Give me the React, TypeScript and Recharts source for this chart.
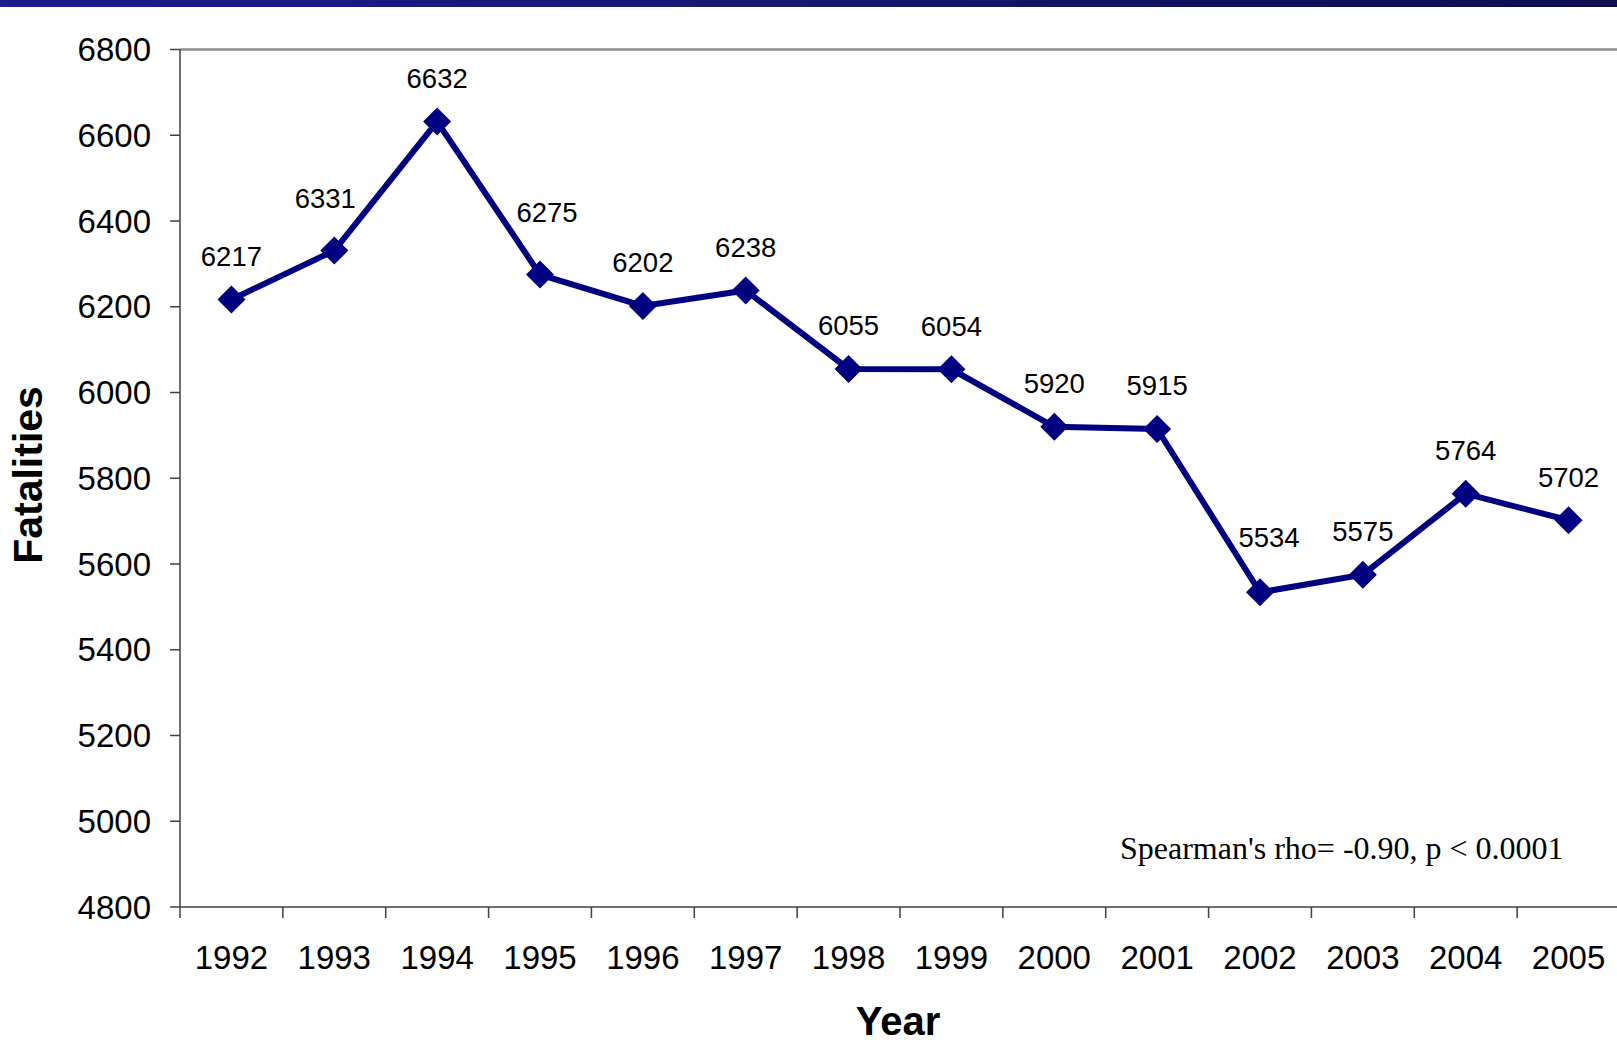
import React from "react";
import {
  LineChart,
  Line,
  XAxis,
  YAxis,
  ReferenceLine,
  LabelList,
} from "recharts";

// years and fatalities
const years = ["1992", "1993", "1994", "1995", "1996", "1997", "1998", "1999", "2000", "2001", "2002", "2003", "2004", "2005"];
const fatalities = [6217, 6331, 6632, 6275, 6202, 6238, 6055, 6054, 5920, 5915, 5534, 5575, 5764, 5702];
const yTicks = [4800, 5000, 5200, 5400, 5600, 5800, 6000, 6200, 6400, 6600, 6800];

// a few labels were dragged by hand in the original
const labelNudge: Record<number, { dx: number; dy: number }> = {
  1: { dx: -9, dy: -9 },
  3: { dx: 7, dy: -19 },
  10: { dx: 9, dy: -12 },
};

const data = years.map((year, i) => ({ year, value: fatalities[i] }));

const W = 1624;
const H = 1064;
const LEFT = 180;
const RIGHT = 4;
const TOP = 49.5;
const BOTTOM = 157;
const BAND = (W - LEFT - RIGHT) / years.length;
const NAVY = "#000080";
const FONT = "'Liberation Sans', Arial, sans-serif";

const Diamond = (props: any) => {
  const { cx, cy } = props;
  if (cx == null || cy == null) return null;
  const r = 14;
  return (
    <polygon
      points={`${cx},${cy - r} ${cx + r},${cy} ${cx},${cy + r} ${cx - r},${cy}`}
      fill={NAVY}
    />
  );
};

const YearTick = (props: any) => {
  const { x, y, payload } = props;
  const left = x - BAND / 2;
  return (
    <g>
      <line x1={left} x2={left} y1={y} y2={y + 11} stroke="#404040" strokeWidth={1.5} />
      <text x={x} y={y + 62} textAnchor="middle" fontSize={33} fontFamily={FONT} fill="#000">
        {payload.value}
      </text>
    </g>
  );
};

const ValueLabel = (props: any) => {
  const { x, y, value, index } = props;
  const n = labelNudge[index] || { dx: 0, dy: 0 };
  return (
    <text
      x={x + n.dx}
      y={y - 33.5 + n.dy}
      textAnchor="middle"
      fontSize={27.5}
      fontFamily={FONT}
      fill="#000"
    >
      {value}
    </text>
  );
};

export default function App() {
  return (
    <div
      style={{
        position: "fixed",
        left: 0,
        top: 0,
        width: 1617,
        height: H,
        overflow: "hidden",
        background: "#fff",
      }}
    >
      <LineChart
        width={W}
        height={H}
        data={data}
        margin={{ top: TOP, right: RIGHT, left: 0, bottom: 0 }}
      >
        <XAxis
          dataKey="year"
          height={BOTTOM}
          padding={{ left: BAND / 2, right: BAND / 2 }}
          axisLine={{ stroke: "#404040", strokeWidth: 1.5 }}
          tickLine={false}
          tickSize={0}
          tickMargin={0}
          interval={0}
          tick={<YearTick />}
        />
        <YAxis
          width={LEFT}
          domain={[4800, 6800]}
          ticks={yTicks}
          interval={0}
          axisLine={{ stroke: "#404040", strokeWidth: 1.5 }}
          tickLine={{ stroke: "#404040", strokeWidth: 1.5 }}
          tickSize={10}
          tickMargin={19}
          tick={{ fontSize: 33, fontFamily: FONT, fill: "#000" }}
        />
        <ReferenceLine y={6800} stroke="#8c8c8c" strokeWidth={2.5} />
        <Line
          type="linear"
          dataKey="value"
          stroke={NAVY}
          strokeWidth={6}
          dot={<Diamond />}
          activeDot={false}
          isAnimationActive={false}
        >
          <LabelList dataKey="value" content={<ValueLabel />} />
        </Line>
      </LineChart>

      {/* slide decoration, axis titles and the note */}
      <svg
        width={1617}
        height={H}
        style={{ position: "absolute", left: 0, top: 0, pointerEvents: "none" }}
      >
        <defs>
          <linearGradient id="topBar" x1="0" y1="0" x2="1" y2="0">
            <stop offset="0%" stopColor="#1c1c8e" />
            <stop offset="100%" stopColor="#0e0e50" />
          </linearGradient>
        </defs>
        <rect x={0} y={0} width={1617} height={7} fill="url(#topBar)" />
        <text
          transform="translate(42,475) rotate(-90)"
          textAnchor="middle"
          fontSize={41}
          fontWeight="bold"
          fontFamily={FONT}
          fill="#000"
        >
          Fatalities
        </text>
        <text
          x={898}
          y={1035}
          textAnchor="middle"
          fontSize={40}
          fontWeight="bold"
          fontFamily={FONT}
          fill="#000"
        >
          Year
        </text>
        <text
          x={1120}
          y={859}
          fontSize={32}
          fontFamily="'Liberation Serif', 'Times New Roman', serif"
          fill="#000"
        >
          Spearman's rho= -0.90, p &lt; 0.0001
        </text>
      </svg>
    </div>
  );
}
